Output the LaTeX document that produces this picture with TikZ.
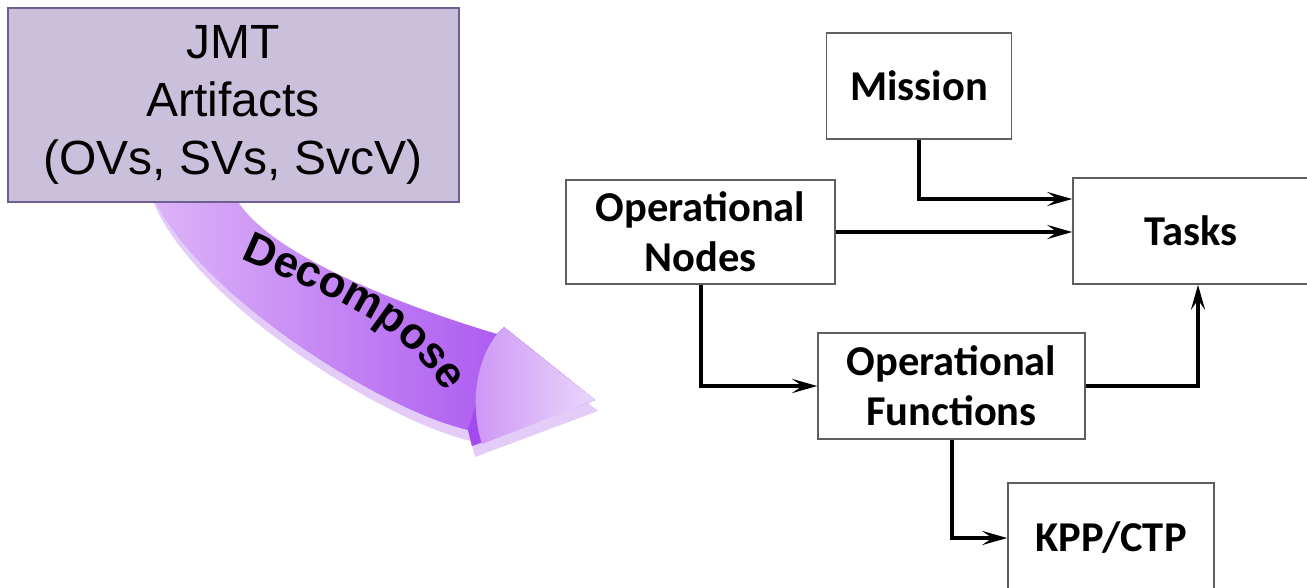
\documentclass[tikz,border=0pt]{standalone}
\usepackage{fontspec}
\newfontfamily\arialfont{Liberation Sans}
\newfontfamily\calfont{Carlito}
\usetikzlibrary{arrows.meta,decorations.text,calc}

\definecolor{artfill}{HTML}{CBC0DC}
\definecolor{artline}{HTML}{6F5E92}
\definecolor{boxline}{HTML}{5E5E5E}
\definecolor{rimcol}{HTML}{E4CCF9}
\definecolor{bodylight}{HTML}{DDB4F7}
\definecolor{bodydark}{HTML}{A044EF}
\definecolor{headdark}{HTML}{A24AEF}
\definecolor{headmid}{HTML}{CC94F5}
\definecolor{headlight}{HTML}{EAD6FB}

\begin{document}
\begin{tikzpicture}[x=1pt,y=-1pt,
  artbox/.style={draw=artline, line width=2pt, fill=artfill,
    minimum width=451pt, minimum height=194pt, inner sep=0pt, align=center,
    font=\arialfont\fontsize{48}{58}\selectfont},
  blockbox/.style={draw=boxline, line width=1.5pt, fill=white, inner sep=0pt,
    align=center, font=\calfont\bfseries\fontsize{42.5}{50}\selectfont},
  link/.style={line width=4pt, -{Stealth[length=25pt,width=14pt,inset=10pt]}},
]
\useasboundingbox (0,0) rectangle (1307,587);

% curved "decompose" arrow: rim first, then the face on top
\def\facepath{(150,190) -- (232,190) .. controls (255,250) and (400,305) .. (497,334)
  -- (504,327) -- (595,400) -- (472,446) -- (468,430)
  .. controls (380,410) and (190,290) .. (150,190) -- cycle}
\fill[rimcol, shift={(3,11)}] \facepath;
\shade[left color=bodylight, right color=bodydark] \facepath;
% arrow head: darker base, lighter bevelled face
\fill[headdark] (497,334) -- (504,327) -- (595,400) -- (472,446) -- (468,430) -- cycle;
\shade[left color=headmid, right color=headlight]
  (504,327) -- (595,400) -- (482,444) .. controls (468,400) and (478,350) .. (504,327) -- cycle;
\path[decorate, decoration={text along path, text align=fit to path,
    text={|\arialfont\bfseries\fontsize{44}{44}\selectfont|Decompose}}]
  (241,258) to[out=-25,in=125] (441,386);

% source box
\node[artbox] (jmt) at (233,105) {JMT\\Artifacts\\(OVs, SVs, SvcV)};

% operational blocks
\node[blockbox, minimum width=185pt, minimum height=106pt] (mission) at (919,86) {Mission};
\node[blockbox, minimum width=269pt, minimum height=104pt] (opnodes) at (700.5,232) {Operational\\Nodes};
\node[blockbox, minimum width=236pt, minimum height=106pt] (tasks) at (1191,231) {Tasks};
\node[blockbox, minimum width=267pt, minimum height=106pt] (opfunc) at (951.5,386) {Operational\\Functions};
\node[blockbox, minimum width=206pt, minimum height=110pt] (kpp) at (1111,538) {KPP/CTP};

% connectors
\draw[link] (mission.south) |- ([yshift=32pt]tasks.west);
\draw[link] (opnodes.east) -- (opnodes.east -| tasks.west);
\draw[link] (opnodes.south) |- (opfunc.west);
\draw[link] (opfunc.east) -| ([xshift=7pt]tasks.south);
\draw[link] (opfunc.south) |- (kpp.west);
\end{tikzpicture}
\end{document}
